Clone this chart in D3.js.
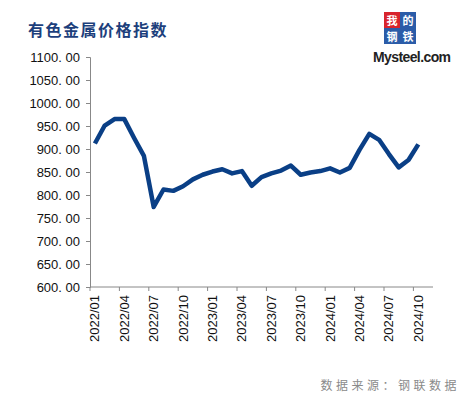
<!DOCTYPE html>
<html lang="zh">
<head>
<meta charset="UTF-8">
<title>有色金属价格指数</title>
<script src="https://d3js.org/d3.v7.min.js"></script>
<style>
  body { margin: 0; background: #fff; }
  svg { display: block; }
  .tick text { font-family: "Liberation Sans", Arial, sans-serif; font-size: 13px; fill: #111; }
</style>
</head>
<body>
<svg id="chart" width="465" height="397"></svg>
<script>
// months 2022/01 .. 2024/11 (last category left empty)
const months = [
  "2022/01","2022/02","2022/03","2022/04","2022/05","2022/06","2022/07","2022/08","2022/09","2022/10","2022/11","2022/12",
  "2023/01","2023/02","2023/03","2023/04","2023/05","2023/06","2023/07","2023/08","2023/09","2023/10","2023/11","2023/12",
  "2024/01","2024/02","2024/03","2024/04","2024/05","2024/06","2024/07","2024/08","2024/09","2024/10","2024/11"
];
const indexValues = [
  912, 951, 965, 965, 924, 885, 774, 812, 809, 819, 834, 844,
  851, 856, 847, 852, 820, 839, 847, 853, 864, 844, 849, 852,
  858, 849, 859, 898, 933, 920, 889, 860, 876, 910
];
const yTicks = [600, 650, 700, 750, 800, 850, 900, 950, 1000, 1050, 1100];
const xLabelMonths = ["2022/01","2022/04","2022/07","2022/10","2023/01","2023/04","2023/07","2023/10","2024/01","2024/04","2024/07","2024/10"];

const svg = d3.select("#chart");
const plotL = 90, plotR = 433, plotT = 57, plotB = 287;

const x = d3.scaleBand().domain(months).range([plotL, plotR]).padding(0);
const y = d3.scaleLinear().domain([600, 1100]).range([plotB, plotT]);

// title
svg.append("text")
  .attr("x", 28).attr("y", 36)
  .attr("font-family", "'Noto Sans CJK SC', sans-serif")
  .attr("font-size", 16).attr("font-weight", "bold")
  .attr("letter-spacing", 1.5)
  .attr("fill", "#1d3f7c")
  .text("有色金属价格指数");

// y axis
const yAxis = svg.append("g")
  .attr("transform", `translate(${plotL},0)`)
  .call(d3.axisLeft(y).tickValues(yTicks).tickSize(4).tickPadding(6)
    .tickFormat(d => d3.format(".2f")(d).replace(".", ". ")));
yAxis.selectAll("line, path").attr("stroke", "#888");

// x axis: ticks at band left edges every 3 months
const xAxisG = svg.append("g").attr("transform", `translate(0,${plotB})`);
xAxisG.append("line").attr("x1", plotL).attr("x2", plotR)
  .attr("stroke", "#888");
xAxisG.selectAll(".xt").data(xLabelMonths).enter().append("line")
  .attr("x1", d => x(d)).attr("x2", d => x(d))
  .attr("y1", 0).attr("y2", 4).attr("stroke", "#888");
xAxisG.selectAll(".xl").data(xLabelMonths).enter().append("text")
  .attr("transform", d => `translate(${x(d) + x.bandwidth() / 2 + 4.5},8) rotate(-90)`)
  .attr("text-anchor", "end")
  .attr("font-family", "'Liberation Sans', Arial, sans-serif")
  .attr("font-size", 13).attr("fill", "#111")
  .text(d => d);

// line
const line = d3.line()
  .x((d, i) => x(months[i]) + x.bandwidth() / 2)
  .y(d => y(d));
svg.append("path")
  .datum(indexValues)
  .attr("d", line)
  .attr("fill", "none")
  .attr("stroke", "#0a3f86")
  .attr("stroke-width", 4.5)
  .attr("stroke-linejoin", "round");

// logo
const logo = svg.append("g");
const cells = [
  {c: "我", x: 384, y: 12, f: "#d8242c"},
  {c: "的", x: 400, y: 12, f: "#2b5ca8"},
  {c: "钢", x: 384, y: 28, f: "#2b5ca8"},
  {c: "铁", x: 400, y: 28, f: "#2b5ca8"}
];
logo.selectAll("rect").data(cells).enter().append("rect")
  .attr("x", d => d.x).attr("y", d => d.y)
  .attr("width", 16).attr("height", 16).attr("fill", d => d.f);
logo.selectAll("text.c").data(cells).enter().append("text")
  .attr("x", d => d.x + 8).attr("y", d => d.y + 12.5)
  .attr("text-anchor", "middle")
  .attr("font-family", "'Noto Sans CJK SC', sans-serif")
  .attr("font-size", 11).attr("font-weight", "bold").attr("fill", "#fff")
  .text(d => d.c);
logo.append("text")
  .attr("x", 373).attr("y", 62)
  .attr("font-family", "'Liberation Sans', Arial, sans-serif")
  .attr("font-size", 14).attr("font-weight", "bold")
  .attr("letter-spacing", -0.6)
  .attr("fill", "#222")
  .text("Mysteel.com");

// source
svg.append("text")
  .attr("x", 460).attr("y", 390)
  .attr("text-anchor", "end")
  .attr("font-family", "'Noto Sans CJK SC', sans-serif")
  .attr("font-size", 12).attr("letter-spacing", 3.5)
  .attr("fill", "#8a8a8a")
  .text("数据来源：钢联数据");
</script>
</body>
</html>
